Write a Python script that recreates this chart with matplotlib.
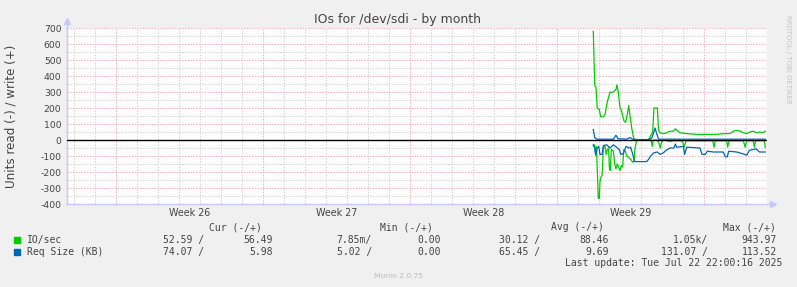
"""Munin style monthly IO chart for /dev/sdi."""

import matplotlib

matplotlib.use("Agg")
import matplotlib.pyplot as plt
import numpy as np

# time axis is in days from the left edge of the graph
week_labels = ["Week 26", "Week 27", "Week 28", "Week 29"]
first_week_start = 2.333
n_days = 33.333

io_write_t = [25.06, 25.13, 25.19, 25.25, 25.35, 25.41, 25.54, 25.62, 25.73, 25.86,
              25.95, 26.05, 26.14, 26.19, 26.25, 26.33, 26.41, 26.52, 26.60, 26.68,
              26.75, 26.81, 26.89, 26.97, 27.02, 27.68, 27.79, 27.89, 27.95, 28.11,
              28.17, 28.24, 28.40, 28.56, 28.71, 28.87, 28.97, 29.06, 29.19, 29.51,
              29.98, 30.46, 30.94, 31.25, 31.57, 31.73, 31.89, 32.05, 32.21, 32.37,
              32.52, 32.68, 32.84, 33.00, 33.13, 33.25]
io_write = [680, 340, 330, 200, 190, 145, 145, 160, 240, 300,
            295, 305, 315, 345, 300, 205, 180, 120, 110, 160,
            215, 150, 75, 20, 0, 0, 25, 50, 200, 200,
            60, 45, 40, 45, 55, 55, 70, 60, 45, 40,
            35, 35, 35, 40, 40, 55, 60, 55, 45, 40,
            50, 55, 45, 50, 45, 55]

io_read_t = [25.06, 25.11, 25.16, 25.21, 25.25, 25.30, 25.35, 25.38, 25.43, 25.48,
             25.54, 25.62, 25.67, 25.73, 25.79, 25.83, 25.87, 25.92, 26.02, 26.08,
             26.14, 26.21, 26.27, 26.33, 26.40, 26.46, 26.51, 26.59, 26.65, 26.75,
             26.84, 26.94, 27.00, 27.05, 27.13, 27.81, 27.87, 27.92, 28.08, 28.17,
             28.25, 28.32, 28.43, 28.59, 28.71, 28.87, 29.19, 29.32, 29.38, 29.48,
             29.67, 30.75, 30.81, 30.87, 31.41, 31.46, 31.52, 32.21, 32.29, 32.37,
             32.68, 32.73, 32.79, 33.21, 33.25]
io_read = [-40, -30, -75, -40, -180, -365, -365, -260, -230, -220,
           -50, -40, -90, -60, -50, -180, -190, -60, -70, -150,
           -180, -150, -170, -190, -160, -170, -60, -70, -100, -110,
           -120, -140, -130, -50, 0, 0, -40, 0, 0, -10,
           -50, -10, 0, -5, -10, -5, -5, -10, -45, -5,
           -5, -5, -45, -5, -5, -45, -5, -5, -45, -5,
           -5, -45, -5, -5, -45]

req_write_t = [25.06, 25.13, 25.22, 26.02, 26.14, 26.24, 26.65, 26.81, 26.94, 27.13,
               27.68, 27.84, 27.92, 28.00, 28.08, 28.17, 33.25]
req_write = [65, 15, 5, 5, 30, 8, 5, 15, 5, 3,
             3, 10, 40, 75, 40, 5, 5]

req_read_t = [25.06, 25.13, 25.17, 25.25, 25.32, 25.38, 25.48, 25.54, 25.70, 25.86,
              25.94, 26.02, 26.17, 26.30, 26.37, 26.49, 26.62, 26.75, 26.84, 26.94,
              27.03, 27.60, 27.70, 27.79, 27.95, 28.11, 28.24, 28.40, 28.52, 28.71,
              28.90, 28.97, 29.03, 29.35, 29.41, 29.51, 30.14, 30.24, 30.40, 30.49,
              30.78, 31.25, 31.35, 31.44, 31.51, 31.89, 32.27, 32.37, 32.49, 32.81,
              32.97, 33.25]
req_read = [-30, -45, -95, -50, -40, -90, -90, -35, -30, -50,
            -40, -30, -45, -60, -90, -85, -40, -50, -45, -90,
            -135, -135, -120, -100, -80, -75, -90, -80, -65, -50,
            -50, -25, -45, -40, -90, -45, -50, -90, -90, -70,
            -75, -75, -105, -105, -70, -75, -90, -95, -65, -55,
            -75, -75]

legend_names = ["IO/sec", "Req Size (KB)"]
legend_cur = [("52.59 /", "56.49"), ("74.07 /", "5.98")]
legend_min = [("7.85m/", "0.00"), ("5.02 /", "0.00")]
legend_avg = [("30.12 /", "88.46"), ("65.45 /", "9.69")]
legend_max = [("1.05k/", "943.97"), ("131.07 /", "113.52")]
last_update = "Last update: Tue Jul 22 22:00:16 2025"

GREEN = "#00cc00"
BLUE = "#0066b3"
AXIS = "#c8c8ff"
TEXT = "#444444"
MGRID = "#f0b4b4"
GRID = "#d2d2d2"

W, H = 797, 287


def fx(px):
    return px / W


def fy(py):
    return 1 - py / H


fig = plt.figure(figsize=(W / 100, H / 100), dpi=100, facecolor="#f0f0f0")
ax = fig.add_axes([fx(67), fy(204), 700 / W, 176 / H])
ax.set_facecolor("white")
ax.set_xlim(0, n_days)
ax.set_ylim(-400, 700)

# grid
dots = (0, (1.4, 1.4))
ax.set_yticks(np.arange(-400, 701, 100))
ax.set_yticks(np.arange(-350, 700, 100), minor=True)
week_bounds = first_week_start + 7 * np.arange(5)
ax.set_xticks(week_bounds)
ax.set_xticks(np.arange(first_week_start - 2, n_days, 1.0), minor=True)
ax.set_xticklabels([])
ax.grid(which="major", color=MGRID, linestyle=dots, linewidth=0.72)
ax.grid(which="minor", color=GRID, linestyle=dots, linewidth=0.72)
ax.set_axisbelow(True)

ax.tick_params(axis="y", which="both", length=2, direction="inout", color=AXIS,
               labelsize=6.7, labelcolor=TEXT, pad=3)
ax.tick_params(axis="x", which="major", length=2, direction="inout", color=MGRID)
ax.tick_params(axis="x", which="minor", length=2, direction="inout", color=GRID)
ax.set_yticklabels([str(v) for v in range(-400, 701, 100)])

for name in ["top", "right", "left", "bottom"]:
    ax.spines[name].set_visible(False)

# axis lines with arrows
ax.plot([0, 0], [0, 1.035], color=AXIS, lw=1, transform=ax.transAxes, clip_on=False)
ax.plot([0], [1.04], marker="^", ms=5, color=AXIS, transform=ax.transAxes, clip_on=False)
ax.plot([0, 1.006], [0, 0], color=AXIS, lw=1, transform=ax.transAxes, clip_on=False)
ax.plot([1.008], [0], marker=">", ms=5, color=AXIS, transform=ax.transAxes, clip_on=False)

for i, label in enumerate(week_labels):
    ax.annotate(label, (week_bounds[i] + 3.5, 0), xycoords=ax.get_xaxis_transform(),
                xytext=(0, -6.6), textcoords="offset points",
                ha="center", va="center", fontsize=6.9, color=TEXT)

# data
ax.plot(io_read_t, io_read, color=GREEN, lw=0.9)
ax.plot(io_write_t, io_write, color=GREEN, lw=0.9)
ax.plot(req_read_t, req_read, color=BLUE, lw=0.9)
ax.plot(req_write_t, req_write, color=BLUE, lw=0.9)
ax.axhline(0, color="black", lw=1)

fig.text(fx(397), fy(19), "IOs for /dev/sdi - by month", ha="center", va="center",
         fontsize=9, color=TEXT)
fig.text(fx(11), fy(116), "Units read (-) / write (+)", rotation=90, ha="center",
         va="center", fontsize=8.6, color=TEXT)
fig.text(fx(788), fy(59), "RRDTOOL / TOBI OETIKER", rotation=270, ha="center",
         va="center", fontsize=5, color="#c4c4c4")

# legend block
mono = dict(family="DejaVu Sans Mono", fontsize=7, color=TEXT, va="center")
headers = [("Cur (-/+)", 262), ("Min (-/+)", 433), ("Avg (-/+)", 604), ("Max (-/+)", 776)]
for text, x in headers:
    fig.text(fx(x), fy(227), text, ha="right", **mono)

rows_y = [240, 252]
for i, (name, color) in enumerate(zip(legend_names, [GREEN, BLUE])):
    y = rows_y[i]
    fig.patches.append(plt.Rectangle((fx(14), fy(y + 3)), 6 / W, 6 / H, color=color,
                                     transform=fig.transFigure, figure=fig))
    fig.text(fx(27), fy(y), name, ha="left", **mono)
    cols = [legend_cur[i], legend_min[i], legend_avg[i], legend_max[i]]
    for j, (neg, pos) in enumerate(cols):
        fig.text(fx(204 + 168 * j), fy(y), neg, ha="right", **mono)
        fig.text(fx(273 + 168 * j), fy(y), pos, ha="right", **mono)

fig.text(fx(782), fy(263), last_update, ha="right", **mono)
fig.text(fx(398), fy(276), "Munin 2.0.75", ha="center", va="center", fontsize=5.4,
         color="#bbbbbb")

fig.savefig("out.png", dpi=100, facecolor=fig.get_facecolor())
